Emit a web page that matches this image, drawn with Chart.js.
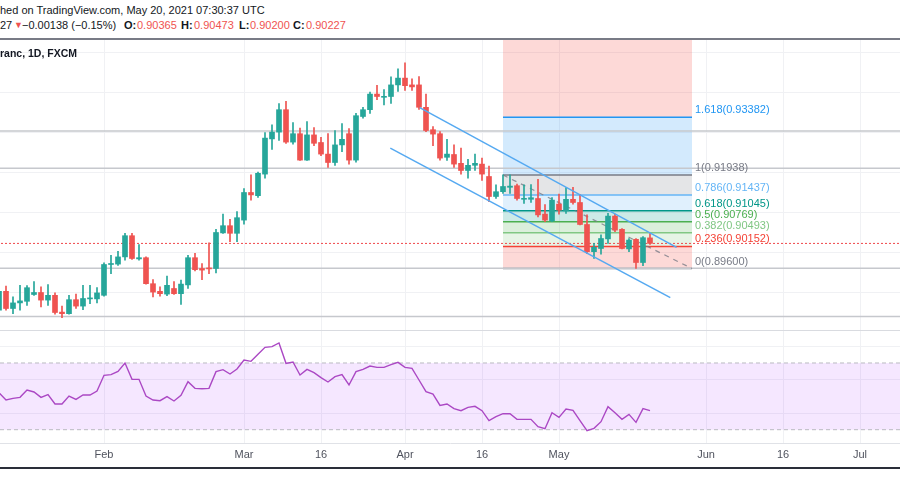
<!DOCTYPE html>
<html>
<head>
<meta charset="utf-8">
<title>USDCHF 1D</title>
<script src="https://cdn.jsdelivr.net/npm/chart.js@4.4.0/dist/chart.umd.min.js"></script>
<style>
    body { margin: 0; background: #fff; }
    #wrap { position: relative; width: 900px; height: 500px; overflow: hidden; background: #fff;
            font-family: "Liberation Sans", Arial, sans-serif; color: #131722; }
    .txt { position: absolute; font-size: 11px; line-height: 13px; white-space: nowrap; z-index: 2; }
    .red { color: #ef5350; }
    .b { font-weight: bold; }
    .rule { position: absolute; left: 0; width: 900px; z-index: 2; }
    canvas { position: absolute; left: 0; }
</style>
</head>
<body>
<div id="wrap">
    <div class="txt" style="left:0;top:4px">hed on TradingView.com, May 20, 2021 07:30:37 UTC</div>
    <div class="txt" style="left:0;top:19px">27</div>
    <div class="txt red" style="left:14px;top:19px;font-size:9px">▼</div>
    <div class="txt" style="left:22px;top:19px">−0.00138 (−0.15%)</div>
    <div class="txt b" style="left:124px;top:19px">O:</div>
    <div class="txt red" style="left:137px;top:19px">0.90365</div>
    <div class="txt b" style="left:181px;top:19px">H:</div>
    <div class="txt red" style="left:194px;top:19px">0.90473</div>
    <div class="txt b" style="left:239px;top:19px">L:</div>
    <div class="txt red" style="left:250px;top:19px">0.90200</div>
    <div class="txt b" style="left:293px;top:19px">C:</div>
    <div class="txt red" style="left:306px;top:19px">0.90227</div>
    <div class="rule" style="top:38px;height:2px;background:#787b86"></div>

    <canvas id="price_chart" width="900" height="290" style="top:40px"></canvas>
    <div class="txt b" style="left:0;top:47px;font-size:10.5px">ranc, 1D, FXCM</div>

    <div class="rule" style="top:330px;height:1px;background:#d9dbe0"></div>
    <canvas id="rsi_chart" width="900" height="136" style="top:331px"></canvas>
    <div class="rule" style="top:467px;height:2px;background:#2a2e39"></div>
</div>

<script>
// bar k sits at index FIRST_BAR + k (index 0 = Feb 1, 2021, one index per trading day)
var FIRST_BAR = -15;

var opens = [
    0.8856, 0.8903, 0.8860, 0.8874, 0.8878, 0.8895, 0.8900, 0.8881, 0.8893, 0.8851,
    0.8847, 0.8882, 0.8866, 0.8884, 0.8884,
    0.8893, 0.8970, 0.8971, 0.8989, 0.9042, 0.8984, 0.8987, 0.8922, 0.8903, 0.8896,
    0.8910, 0.8897, 0.8919, 0.8987, 0.8960, 0.8961, 0.8960, 0.9049, 0.9067, 0.9048,
    0.9081, 0.9150, 0.9142, 0.9196, 0.9284, 0.9301, 0.9357, 0.9276, 0.9297, 0.9231,
    0.9294, 0.9275, 0.9246, 0.9225, 0.9269, 0.9297, 0.9231, 0.9340, 0.9357, 0.9396,
    0.9388, 0.9390, 0.9419, 0.9436, 0.9419, 0.9419, 0.9363, 0.9307, 0.9297, 0.9238,
    0.9245, 0.9223, 0.9205, 0.9218, 0.9221, 0.9190, 0.9140, 0.9152, 0.9163, 0.9167,
    0.9133, 0.9133, 0.9135, 0.9096, 0.9079, 0.9121, 0.9104, 0.9133, 0.9125, 0.9070,
    0.9002, 0.9010, 0.9034, 0.9091, 0.9058, 0.9009, 0.9033, 0.8975, 0.90365
];
var highs = [
    0.8906, 0.8916, 0.8889, 0.8918, 0.8917, 0.8927, 0.8914, 0.8920, 0.8899, 0.8866,
    0.8893, 0.8896, 0.8918, 0.8918, 0.8912,
    0.8974, 0.8993, 0.9003, 0.9048, 0.9048, 0.9020, 0.8989, 0.8932, 0.8914, 0.8941,
    0.8927, 0.8931, 0.8993, 0.8998, 0.8972, 0.9024, 0.9058, 0.9096, 0.9083, 0.9102,
    0.9160, 0.9194, 0.9201, 0.9300, 0.9319, 0.9372, 0.9378, 0.9325, 0.9311, 0.9327,
    0.9312, 0.9288, 0.9297, 0.9305, 0.9322, 0.9310, 0.9348, 0.9363, 0.9401, 0.9418,
    0.9407, 0.9439, 0.9459, 0.9474, 0.9434, 0.9440, 0.9396, 0.9315, 0.9302, 0.9283,
    0.9269, 0.9261, 0.9233, 0.9246, 0.9236, 0.9216, 0.9169, 0.9194, 0.9194, 0.9171,
    0.9169, 0.9170, 0.9183, 0.9120, 0.9137, 0.9146, 0.9162, 0.9163, 0.9145, 0.9094,
    0.9023, 0.9044, 0.9098, 0.9096, 0.9060, 0.9035, 0.9035, 0.9040, 0.90473
];
var lows = [
    0.8850, 0.8856, 0.8847, 0.8856, 0.8868, 0.8893, 0.8864, 0.8868, 0.8846, 0.8837,
    0.8846, 0.8860, 0.8857, 0.8872, 0.8874,
    0.8891, 0.8947, 0.8968, 0.8981, 0.8983, 0.8981, 0.8921, 0.8889, 0.8891, 0.8892,
    0.8895, 0.8870, 0.8910, 0.8954, 0.8932, 0.8947, 0.8949, 0.9048, 0.9027, 0.9027,
    0.9071, 0.9131, 0.9138, 0.9186, 0.9258, 0.9280, 0.9273, 0.9271, 0.9230, 0.9230,
    0.9267, 0.9242, 0.9213, 0.9218, 0.9252, 0.9221, 0.9226, 0.9336, 0.9348, 0.9382,
    0.9369, 0.9373, 0.9403, 0.9405, 0.9405, 0.9358, 0.9302, 0.9267, 0.9231, 0.9230,
    0.9213, 0.9196, 0.9186, 0.9205, 0.9180, 0.9127, 0.9135, 0.9148, 0.9148, 0.9131,
    0.9123, 0.9125, 0.9089, 0.9077, 0.9077, 0.9096, 0.9098, 0.9121, 0.9069, 0.8997,
    0.8985, 0.8996, 0.9023, 0.9052, 0.9009, 0.9002, 0.8960, 0.8967, 0.90200
];
var closes = [
    0.8903, 0.8860, 0.8874, 0.8879, 0.8912, 0.8900, 0.8881, 0.8893, 0.8850, 0.8847,
    0.8882, 0.8866, 0.8885, 0.8886, 0.8899,
    0.8970, 0.8972, 0.8989, 0.9042, 0.8985, 0.8987, 0.8922, 0.8901, 0.8897, 0.8918,
    0.8897, 0.8921, 0.8987, 0.8957, 0.8956, 0.8959, 0.9050, 0.9067, 0.9048, 0.9087,
    0.9150, 0.9144, 0.9198, 0.9286, 0.9301, 0.9357, 0.9276, 0.9297, 0.9231, 0.9294,
    0.9273, 0.9246, 0.9225, 0.9269, 0.9283, 0.9231, 0.9342, 0.9357, 0.9396, 0.9390,
    0.9390, 0.9419, 0.9436, 0.9417, 0.9414, 0.9363, 0.9305, 0.9296, 0.9236, 0.9246,
    0.9221, 0.9205, 0.9218, 0.9223, 0.9196, 0.9140, 0.9152, 0.9165, 0.9166, 0.9135,
    0.9135, 0.9137, 0.9094, 0.9081, 0.9131, 0.9106, 0.9133, 0.9125, 0.9070, 0.9002,
    0.9013, 0.9035, 0.9091, 0.9056, 0.9010, 0.9031, 0.8975, 0.9037, 0.90227
];
var rsiValues = [
    52.2, 47.8, 48.8, 49.4, 53.8, 52.6, 49.4, 51.0, 45.4, 45.4, 50.2, 48.2, 50.8, 50.8, 53.2,
    62.6, 63.0, 65.0, 70.0, 60.2, 60.2, 50.2, 47.8, 47.4, 49.8, 47.2, 50.6, 58.8, 54.8, 54.6,
    54.8, 64.8, 66.0, 63.4, 66.4,
    71.8, 71.0, 75.2, 79.4, 79.8, 82.0, 69.8, 70.6, 62.8, 66.2, 64.2, 61.2, 58.6, 61.8, 63.0,
    56.8, 64.8, 66.2, 68.2, 67.4, 67.4, 69.0, 70.4,
    67.4, 66.8, 59.8, 52.8, 51.4, 44.6, 45.4, 42.6, 41.4, 43.4, 44.0, 41.4, 35.4, 37.8, 39.6,
    39.6, 36.2, 36.2, 36.2, 31.8, 30.6, 40.2, 37.4, 42.4, 41.6, 35.4, 29.4, 30.8, 34.8, 43.8,
    40.2, 36.2, 39.2, 34.4, 42.6, 41.4
];

var tickBars = [0, 20, 31, 43, 54, 65, 86, 97, 108];
var tickLabels = ["Feb", "Mar", "16", "Apr", "16", "May", "Jun", "16", "Jul"];
var priceGrid = [0.88, 0.89, 0.90, 0.91, 0.92, 0.93, 0.94, 0.95];
var rsiGrid = [40, 60, 80];
var rsiBands = [70, 30];

// fibonacci retracement drawn from the swing high to the swing low
var fibRatios = [0, 0.236, 0.382, 0.5, 0.618, 0.786, 1, 1.618, 2.618];
var fibLow = 0.896;
var fibHigh = 0.919376;
var fibBars = [57, 84];

// drawings: channel, horizontal levels, last price
var channelUpper = [[45.1, 0.9362], [81.8, 0.9013]];
var channelLower = [[40.9, 0.9261], [80.9, 0.8887]];
var levelLines = [0.93038, 0.92105, 0.89605, 0.8840];
var lastPrice = 0.90227;

// visible window of the two panes
var X_MIN = -104 / 7, X_MAX = 796 / 7;
var PRICE_MIN = 0.880625, PRICE_MAX = 0.953125;
var RSI_MIN = 22.02, RSI_MAX = 89.19;

var UP = "#26a69a", DOWN = "#ef5350";
var GRID = "#f0f1f4";
var fibColors = ["#787b86", "#f44336", "#81c784", "#4caf50", "#009688", "#64b5f6", "#787b86", "#2196f3", "#f44336"];
var FONT = '"Liberation Sans", Arial, sans-serif';

function fade(hex, a) {
    var n = parseInt(hex.slice(1), 16);
    return "rgba(" + (n >> 16) + "," + ((n >> 8) & 255) + "," + (n & 255) + "," + a + ")";
}

function fibLevel(r) {
    return fibLow + r * (fibHigh - fibLow);
}

function segment(points) {
    return points.map(function (p) { return { x: p[0], y: p[1] }; });
}

function lineSet(data, color, width, dash, order) {
    return { type: "line", data: data, borderColor: color, borderWidth: width, borderDash: dash || [],
             pointRadius: 0, fill: false, order: order };
}

function gridScale(min, max, values) {
    return {
        type: "linear", min: min, max: max, offset: false,
        grid: { color: GRID, drawTicks: false, offset: false },
        border: { display: false },
        ticks: { display: false },
        afterBuildTicks: function (s) { s.ticks = values.map(function (v) { return { value: v }; }); }
    };
}

var fibLabelPlugin = {
    id: "fibLabels",
    afterDatasetsDraw: function (chart) {
        var ctx = chart.ctx, xs = chart.scales.x, ys = chart.scales.y;
        ctx.save();
        ctx.font = "11px " + FONT;
        ctx.textBaseline = "middle";
        fibRatios.forEach(function (r, k) {
            var v = fibLevel(r);
            if (v > ys.max) return;
            ctx.fillStyle = fibColors[k];
            ctx.fillText(String(r) + "(" + v.toFixed(5) + ")", xs.getPixelForValue(fibBars[1]) + 3, ys.getPixelForValue(v) - 7);
        });
        ctx.restore();
    }
};

function renderPriceChart() {
    var context = document.getElementById("price_chart").getContext("2d");
    var colors = opens.map(function (o, k) { return closes[k] >= o ? UP : DOWN; });
    var datasets = [];

    fibRatios.forEach(function (r, k) {
        var v = fibLevel(r);
        var ds = lineSet([{ x: fibBars[0], y: v }, { x: fibBars[1], y: v }], fibColors[k], 1.5, null, 6);
        ds.fill = k === 0 ? false : "-1";
        ds.backgroundColor = fade(fibColors[k], 0.2);
        datasets.push(ds);
    });
    datasets.push(lineSet([{ x: fibBars[0], y: fibHigh }, { x: fibBars[1], y: fibLow }], "rgba(120,123,134,0.8)", 1.2, [5, 5], 4));

    levelLines.forEach(function (v) {
        datasets.push(lineSet([{ x: X_MIN - 1, y: v }, { x: X_MAX + 1, y: v }], "#c6c8cd", 1.5, null, 5));
    });
    datasets.push(lineSet([{ x: X_MIN - 1, y: lastPrice }, { x: X_MAX + 1, y: lastPrice }], "#f0474a", 1, [2, 2], 3));

    datasets.push({
        type: "bar", grouped: false, order: 2, barThickness: 1, backgroundColor: colors,
        data: opens.map(function (o, k) { return { x: FIRST_BAR + k, y: [lows[k], highs[k]] }; })
    });
    datasets.push({
        type: "bar", grouped: false, order: 1, barThickness: 5, minBarLength: 1, backgroundColor: colors,
        data: opens.map(function (o, k) { return { x: FIRST_BAR + k, y: [o, closes[k]] }; })
    });

    datasets.push(lineSet(segment(channelUpper), "#55a9f1", 1.5, null, 0));
    datasets.push(lineSet(segment(channelLower), "#55a9f1", 1.5, null, 0));

    var xScale = gridScale(X_MIN, X_MAX, tickBars);
    xScale.afterFit = function (s) { s.height = 0; };
    var yScale = gridScale(PRICE_MIN, PRICE_MAX, priceGrid);
    yScale.afterFit = function (s) { s.width = 0; };

    new Chart(context, {
        type: "bar",
        data: { datasets: datasets },
        options: {
            responsive: false,
            animation: false,
            layout: { padding: 0 },
            plugins: { legend: { display: false }, tooltip: { enabled: false } },
            scales: { x: xScale, y: yScale }
        },
        plugins: [fibLabelPlugin]
    });
}

function renderRsiChart() {
    var context = document.getElementById("rsi_chart").getContext("2d");

    var upper = lineSet([{ x: X_MIN - 1, y: rsiBands[0] }, { x: X_MAX + 1, y: rsiBands[0] }], "#b9bac1", 1, [4, 3], 3);
    var lower = lineSet([{ x: X_MIN - 1, y: rsiBands[1] }, { x: X_MAX + 1, y: rsiBands[1] }], "#b9bac1", 1, [4, 3], 3);
    lower.fill = "-1";
    lower.backgroundColor = "rgba(153,21,255,0.1)";
    var rsiLine = lineSet(rsiValues.map(function (v, k) { return { x: FIRST_BAR + k, y: v }; }), "#ab48c4", 1.4, null, 0);

    var xScale = gridScale(X_MIN, X_MAX, tickBars);
    xScale.border = { display: true, color: "#e0e2e7" };
    xScale.ticks = {
        display: true, padding: 5, color: "#50535e", maxRotation: 0, autoSkip: false,
        font: { family: FONT, size: 11 },
        callback: function (v) { return tickLabels[tickBars.indexOf(v)]; }
    };
    xScale.afterFit = function (s) { s.height = 24; };
    var yScale = gridScale(RSI_MIN, RSI_MAX, rsiGrid);
    yScale.afterFit = function (s) { s.width = 0; };

    new Chart(context, {
        type: "line",
        data: { datasets: [upper, lower, rsiLine] },
        options: {
            responsive: false,
            animation: false,
            layout: { padding: 0 },
            plugins: { legend: { display: false }, tooltip: { enabled: false } },
            scales: { x: xScale, y: yScale }
        }
    });
}

renderPriceChart();
renderRsiChart();
</script>
</body>
</html>
